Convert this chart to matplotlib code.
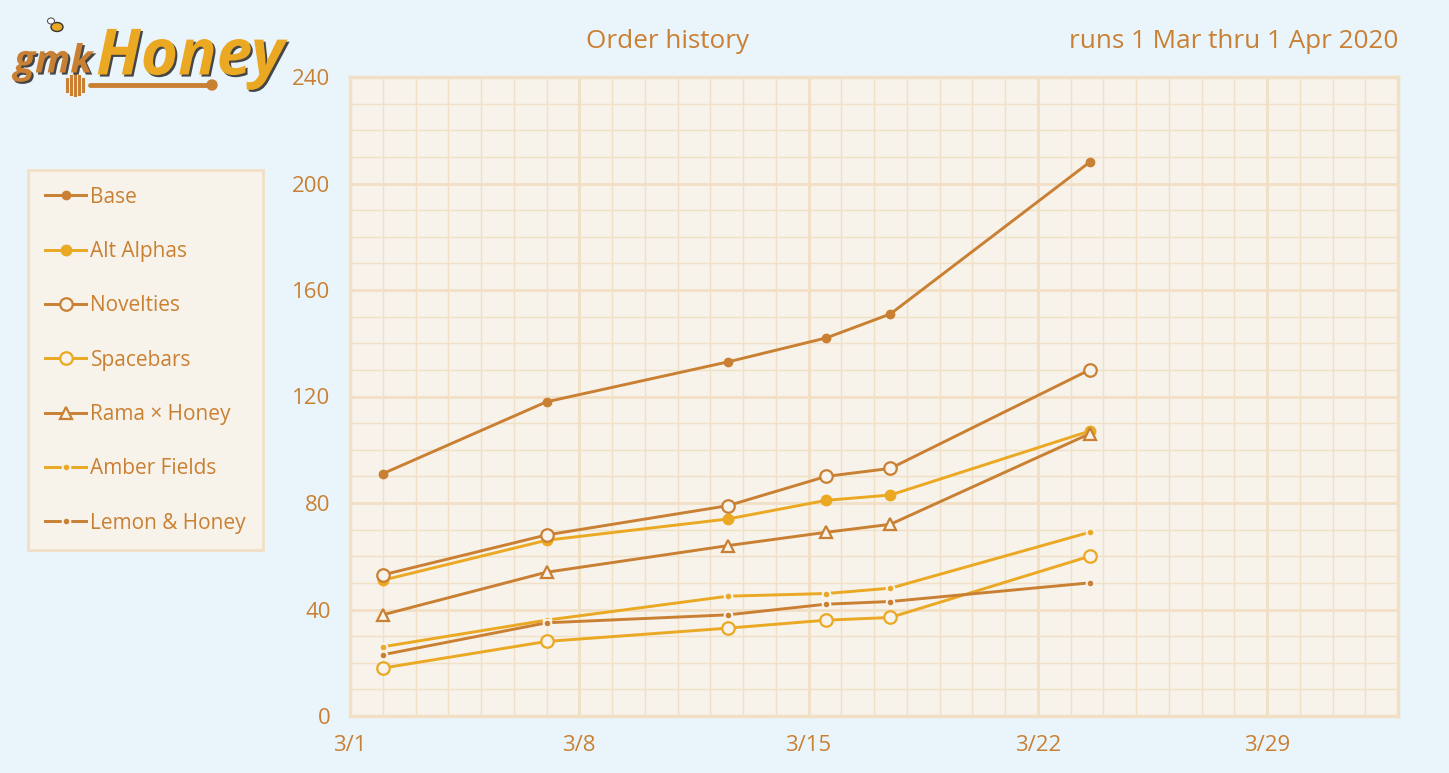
import matplotlib.pyplot as plt
import matplotlib.dates as mdates
import matplotlib.patheffects as pe
from matplotlib.patches import Circle, Ellipse
from datetime import datetime

# dates of the order count snapshots
dates = [datetime(2020, 3, 2, 0), datetime(2020, 3, 7, 0), datetime(2020, 3, 12, 13),
         datetime(2020, 3, 15, 13), datetime(2020, 3, 17, 12), datetime(2020, 3, 23, 14)]

base = [91, 118, 133, 142, 151, 208]
alt_alphas = [51, 66, 74, 81, 83, 107]
novelties = [53, 68, 79, 90, 93, 130]
spacebars = [18, 28, 33, 36, 37, 60]
rama_honey = [38, 54, 64, 69, 72, 106]
amber_fields = [26, 36, 45, 46, 48, 69]
lemon_honey = [23, 35, 38, 42, 43, 50]

week_ticks = [datetime(2020, 3, 1), datetime(2020, 3, 8), datetime(2020, 3, 15),
              datetime(2020, 3, 22), datetime(2020, 3, 29)]
week_labels = ["3/1", "3/8", "3/15", "3/22", "3/29"]

brown = "#C98033"
gold = "#EAA823"
paper = "#F7F2EA"
grid_c = "#F1DFC6"
sky = "#EAF5FB"

plt.rcParams["font.family"] = ["Open Sans", "DejaVu Sans"]

fig = plt.figure(figsize=(14.49, 7.73), dpi=100)
fig.patch.set_facecolor(sky)
ax = fig.add_axes([350 / 1449, 57 / 773, 1048 / 1449, 639 / 773])
ax.set_facecolor(paper)

series = [
    ("Base", base, brown, dict(marker="o", markersize=6, markerfacecolor=brown, markeredgecolor=brown)),
    ("Alt Alphas", alt_alphas, gold, dict(marker="o", markersize=7.5, markerfacecolor=gold, markeredgecolor=gold)),
    ("Novelties", novelties, brown, dict(marker="o", markersize=9, markerfacecolor=paper, markeredgecolor=brown, markeredgewidth=1.6)),
    ("Spacebars", spacebars, gold, dict(marker="o", markersize=9, markerfacecolor=paper, markeredgecolor=gold, markeredgewidth=1.6)),
    ("Rama × Honey", rama_honey, brown, dict(marker="^", markersize=8, markerfacecolor=paper, markeredgecolor=brown, markeredgewidth=1.6)),
    ("Amber Fields", amber_fields, gold, dict(marker="o", markersize=5.5, markerfacecolor=gold, markeredgecolor=paper, markeredgewidth=1.5)),
    ("Lemon & Honey", lemon_honey, brown, dict(marker="o", markersize=5.5, markerfacecolor=brown, markeredgecolor=paper, markeredgewidth=1.5)),
]

handles = []
for name, vals, col, mk in series:
    h, = ax.plot(dates, vals, color=col, linewidth=2.1, label=name, zorder=3, **mk)
    handles.append(h)

ax.set_xlim(datetime(2020, 3, 1), datetime(2020, 4, 2))
ax.set_ylim(0, 240)
ax.set_xticks(week_ticks)
ax.set_xticklabels(week_labels)
ax.xaxis.set_minor_locator(mdates.DayLocator())
ax.set_yticks(range(0, 241, 40))
ax.set_yticks(range(0, 241, 10), minor=True)

ax.grid(which="major", color=grid_c, linewidth=2.0, zorder=0)
ax.grid(which="minor", color=grid_c, linewidth=1.0, zorder=0)
ax.set_axisbelow(True)
for s in ax.spines.values():
    s.set_color(grid_c)
    s.set_linewidth(2.5)
ax.tick_params(which="both", length=0, colors=brown, labelsize=16)
ax.tick_params(axis="y", pad=14)
ax.tick_params(axis="x", pad=14)

fig.text(668 / 1449, 1 - 42 / 773, "Order history", ha="center", va="center", color=brown, fontsize=18.8)
fig.text(1398 / 1449, 1 - 42 / 773, "runs 1 Mar thru 1 Apr 2020", ha="right", va="center", color=brown, fontsize=18.8)

leg = fig.legend(handles=handles, loc="upper left", bbox_to_anchor=(28 / 1449, 1 - 170 / 773),
                 frameon=True, fancybox=False, facecolor=paper, edgecolor=grid_c,
                 fontsize=15, labelspacing=1.6, handlelength=2.0, handletextpad=0.2,
                 borderpad=0.8, borderaxespad=0)
leg.get_frame().set_linewidth(2)
leg.get_frame().set_alpha(1)
for t in leg.get_texts():
    t.set_color(brown)

# logo
shadow = [pe.withSimplePatchShadow(offset=(1.5, -1.5), shadow_rgbFace="#333333", alpha=0.9)]
fig.text(14 / 1449, 1 - 62 / 773, "gmk", color=brown, fontsize=28, style="italic",
         fontweight="bold", va="center", ha="left", path_effects=shadow)
fig.text(96 / 1449, 1 - 58 / 773, "Honey", color=gold, fontsize=46, style="italic",
         fontweight="bold", va="center", ha="left", path_effects=shadow)
lx = fig.add_axes([0, 0, 1, 1], facecolor="none")
lx.set_xlim(0, 1449)
lx.set_ylim(773, 0)
lx.axis("off")
lx.plot([90, 210], [85, 85], color=brown, linewidth=3.5, solid_capstyle="round")
lx.add_patch(Circle((212, 85), 5, color=brown))
for xr, hh in zip([67, 71, 75, 79, 83], [6, 9, 10, 9, 6]):
    lx.plot([xr, xr], [85 - hh, 85 + hh], color=brown, linewidth=2.2)
lx.add_patch(Ellipse((57, 27), 12, 9, facecolor=gold, edgecolor="#333333", linewidth=1))
lx.add_patch(Ellipse((51, 21), 7, 6, facecolor="white", edgecolor="#555555", linewidth=0.8))

fig.savefig("out.png", dpi=100, facecolor=sky)
